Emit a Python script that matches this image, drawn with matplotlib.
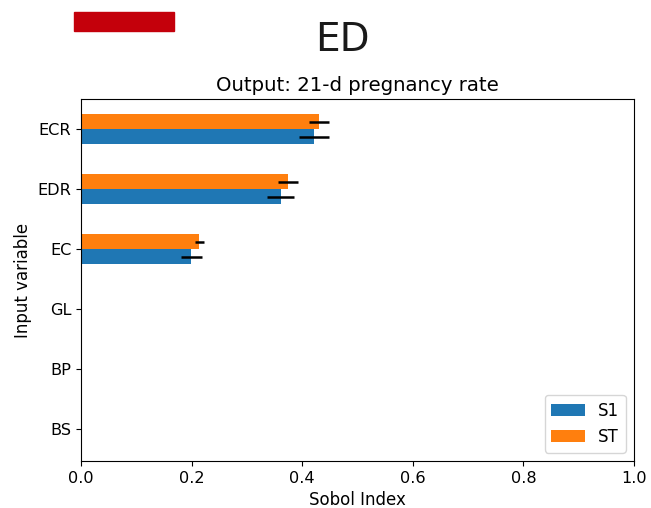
import numpy as np
import matplotlib
matplotlib.use("Agg")
import matplotlib.pyplot as plt
from matplotlib.patches import Rectangle

variables = ["BS", "BP", "GL", "EC", "EDR", "ECR"]
s1 = [0.0, 0.0, 0.0, 0.199, 0.361, 0.421]
s1_conf = [0.0, 0.0, 0.0, 0.019, 0.025, 0.027]
st = [0.0, 0.0, 0.0, 0.214, 0.374, 0.431]
st_conf = [0.0, 0.0, 0.0, 0.008, 0.018, 0.018]

plt.rcParams["font.size"] = 11.8

fig = plt.figure(figsize=(6.51, 5.08), dpi=100)
ax = fig.add_axes([0.1244, 0.0925, 0.8495, 0.7126])

y = np.arange(len(variables))
h = 0.25
ax.barh(y - h / 2, s1, height=h, xerr=s1_conf, color="#1f77b4", label="S1",
        error_kw=dict(ecolor="k", lw=1.8))
ax.barh(y + h / 2, st, height=h, xerr=st_conf, color="#ff7f0e", label="ST",
        error_kw=dict(ecolor="k", lw=1.8))

ax.set_yticks(y)
ax.set_yticklabels(variables)
ax.set_ylim(-0.53, 5.5)
ax.set_xlim(0, 1.0)
ax.tick_params(labelsize=11.6)
ax.set_xlabel("Sobol Index", fontsize=12)
ax.set_ylabel("Input variable", fontsize=12)
ax.set_title("Output: 21-d pregnancy rate", fontsize=14.2)
ax.legend(loc="lower right", fontsize=12)

fig.text(342 / 651, 1 - 40 / 508, "ED", ha="center", va="center", fontsize=28, color="#1a1a1a")
fig.patches.append(Rectangle((74 / 651, 1 - 31 / 508), 100 / 651, 19 / 508,
                             transform=fig.transFigure, color="#c4000b", zorder=5))

fig.savefig("out.png", dpi=100)
